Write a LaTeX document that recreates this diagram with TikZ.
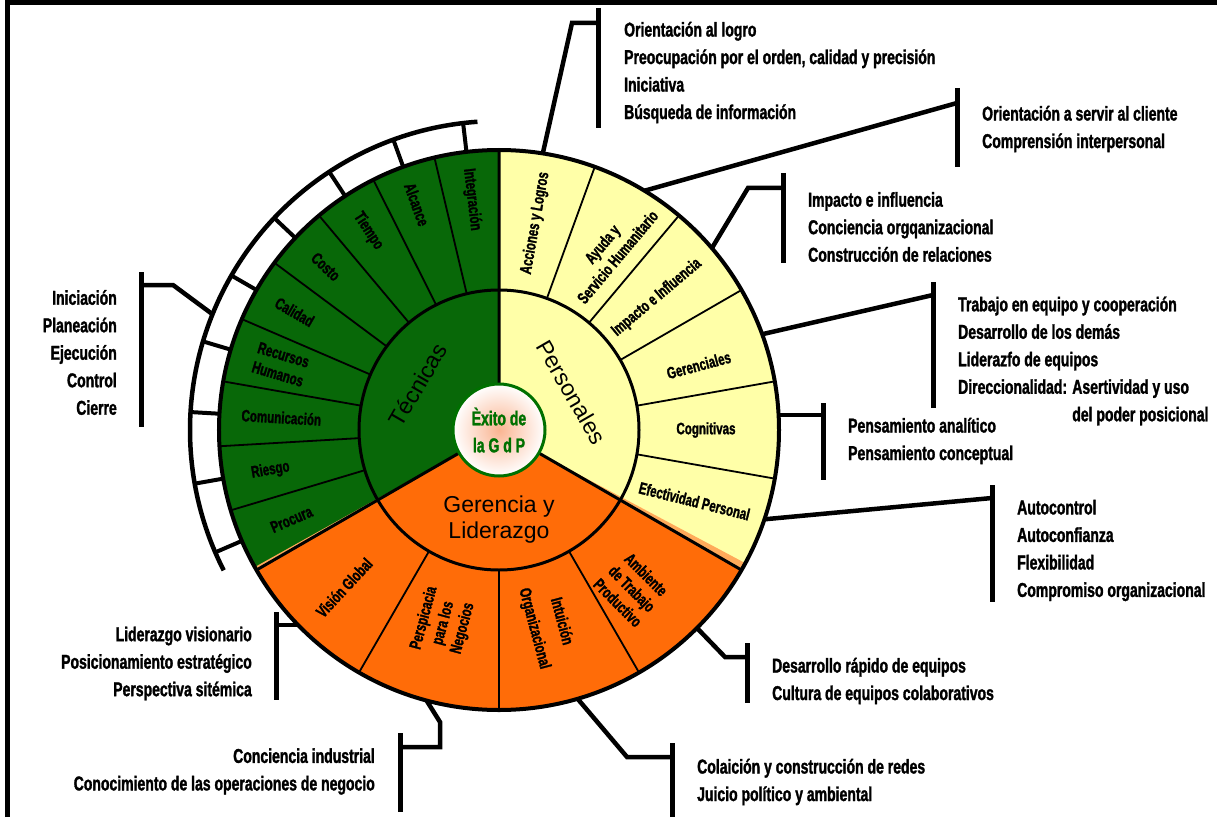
\documentclass[tikz,border=0pt]{standalone}
\usepackage{fontspec}
\setmainfont{Liberation Sans}
\setsansfont{Liberation Sans}
\newfontfamily\condfont[FakeStretch=0.70, FakeBold=1.5]{Liberation Sans Bold}
\usetikzlibrary{positioning}
\definecolor{tecgreen}{RGB}{8,104,8}
\definecolor{peryellow}{RGB}{255,255,168}
\definecolor{gerorange}{RGB}{255,108,8}
\definecolor{shadeorange}{RGB}{255,170,90}
\definecolor{exitogreen}{RGB}{0,112,0}
\definecolor{glow}{RGB}{250,180,145}

\begin{document}
\begin{tikzpicture}[
  x=1pt, y=1pt,
  font=\sffamily,
  seglabel/.style={font=\condfont\fontsize{16.5}{20}\selectfont, align=center, inner sep=0pt},
  mainlabel/.style={font=\sffamily\fontsize{23}{26}\selectfont, align=center, inner sep=0pt},
  listtext/.style={font=\condfont\fontsize{20}{27.5}\selectfont, inner sep=0pt},
  leader/.style={line width=4.5pt},
  bar/.style={line width=5pt},
  divider/.style={line width=1.8pt},
  boundary/.style={line width=3pt}
]
\useasboundingbox (-499,-387) rectangle (718,430);
\draw[line width=5pt] (-491,-387) -- (-491,427.5) -- (718,427.5);

\fill[tecgreen] (0,0) -- (90:280) arc[start angle=90, end angle=210, radius=280] -- cycle;
\fill[peryellow] (0,0) -- (90:280) arc[start angle=90, end angle=-30, radius=280] -- cycle;
\fill[gerorange] (0,0) -- (210:280) arc[start angle=210, end angle=330, radius=280] -- cycle;
\fill[shadeorange] (330:50) -- (330:280) arc[start angle=330, end angle=331.6, radius=280] -- cycle;
\fill[shadeorange] (210:50) -- (210:280) arc[start angle=210, end angle=209.3, radius=280] -- cycle;

\draw[divider] (103.33:140) -- (103.33:280) (116.67:140) -- (116.67:280) (130:140) -- (130:280)
  (143.33:140) -- (143.33:280) (156.67:140) -- (156.67:280) (170:140) -- (170:280)
  (183.33:140) -- (183.33:280) (196.67:140) -- (196.67:280);
\draw[divider] (70:140) -- (70:280) (50:140) -- (50:280) (30:140) -- (30:280)
  (10:140) -- (10:280) (-10:140) -- (-10:280);
\draw[divider] (240:140) -- (240:280) (270:140) -- (270:280) (300:140) -- (300:280);
\draw[boundary] (0,0) -- (90:280) (0,0) -- (210:280) (0,0) -- (330:280);
\draw[line width=3pt] (0,0) circle[radius=140];
\draw[line width=4pt] (0,0) circle[radius=280];

\draw[line width=4.5pt] (94:309) arc[start angle=94, end angle=207, radius=309];
\draw[line width=4pt] (96.67:280) -- (96.67:309) (110:280) -- (110:309) (123.33:280) -- (123.33:309)
  (136.67:280) -- (136.67:309) (150:280) -- (150:309) (163.33:280) -- (163.33:309)
  (176.67:280) -- (176.67:309) (190:280) -- (190:309) (203.33:280) -- (203.33:309);

\node[circle, draw=exitogreen, line width=3pt, minimum size=92pt, inner color=glow, outer color=white,
  font=\condfont\fontsize{20}{27}\selectfont, text=exitogreen, align=center, inner sep=0pt]
  (exito) at (0,0) {Èxito de\\la G d P};

\node[mainlabel, rotate=60] (tecnicas) at (151:93) {Técnicas};
\node[mainlabel, rotate=-60] (personales) at (27.5:82) {Personales};
\node[mainlabel] (gerencia) at (0,-90) {Gerencia y\\Liderazgo};

\node[seglabel, rotate=-83.3] (integracion) at (96.7:232) {Integración};
\node[seglabel, rotate=-70] (alcance) at (110:240) {Alcance};
\node[seglabel, rotate=-56.7] (tiempo) at (123.3:238) {Tiempo};
\node[seglabel, rotate=-43.3] (costo) at (136.7:238) {Costo};
\node[seglabel, rotate=-30] (calidad) at (150:236) {Calidad};
\node[seglabel, rotate=-16.7] (rrhh) at (163.3:228) {Recursos\\Humanos};
\node[seglabel, rotate=-3.3] (comunicacion) at (176.7:218) {Comunicación};
\node[seglabel, rotate=10] (riesgo) at (190:232) {Riesgo};
\node[seglabel, rotate=23.3] (procura) at (203.3:226) {Procura};

\node[seglabel, rotate=80] (acciones) at (80:210) {Acciones y Logros};
\node[seglabel, rotate=50] (ayuda) at (58.3:211) {Ayuda y\\Servicio Humanitario};
\node[seglabel, rotate=40] (impactoseg) at (40:206) {Impacto e Influencia};
\node[seglabel, rotate=15] (gerenciales) at (18:210) {Gerenciales};
\node[seglabel] (cognitivas) at (0:207) {Cognitivas};
\node[seglabel, rotate=-14] (efectividad) at (-20:208) {Efectividad Personal};

\node[seglabel, rotate=47] (vision) at (225.5:221) {Visión Global};
\node[seglabel, rotate=75] (perspicacia) at (254:201) {Perspicacia\\para los\\Negocios};
\node[seglabel, rotate=-75] (intuicion) at (284:201) {Intuición\\[8pt]Organizacional};
\node[seglabel, rotate=-45] (ambiente) at (310:207) {Ambiente\\de Trabajo\\Productivo};

\node[listtext, anchor=west, align=left] (logro) at (125,357.5)
  {Orientación al logro\\Preocupación por el orden, calidad y precisión\\Iniciativa\\Búsqueda de información};
\coordinate (logro-in) at (81:280);
\coordinate (logro-bend) at (73,407);
\coordinate (logro-top) at (99,422);
\coordinate (logro-bot) at (99,302);
\draw[leader] (logro-in) -- (logro-bend) -- (logro-bend -| logro-top);
\draw[bar] (logro-top) -- (logro-bot);

\node[listtext, anchor=west, align=left] (servir) at (483,301)
  {Orientación a servir al cliente\\Comprensión interpersonal};
\coordinate (servir-in) at (58.7:280);
\coordinate (servir-top) at (458,342);
\coordinate (servir-bot) at (458,263);
\draw[leader] (servir-in) -- (458,327);
\draw[bar] (servir-top) -- (servir-bot);

\node[listtext, anchor=west, align=left] (impacto) at (309,203)
  {Impacto e influencia\\Conciencia orgqanizacional\\Construcción de relaciones};
\coordinate (impacto-in) at (40.5:280);
\coordinate (impacto-bend) at (249,242);
\coordinate (impacto-top) at (284,257);
\coordinate (impacto-bot) at (284,167);
\draw[leader] (impacto-in) -- (impacto-bend) -- (impacto-bend -| impacto-top);
\draw[bar] (impacto-top) -- (impacto-bot);

\node[listtext, anchor=west, align=left] (trabajo) at (459,69)
  {Trabajo en equipo y cooperación\\Desarrollo de los demás\\Liderazfo de equipos\\Direccionalidad: Asertividad y uso\\\hphantom{Direccionalidad: }del poder posicional};
\coordinate (trabajo-in) at (20:280);
\coordinate (trabajo-end) at (434,135);
\coordinate (trabajo-top) at (434,148);
\coordinate (trabajo-bot) at (434,22);
\draw[leader] (trabajo-in) -- (trabajo-end);
\draw[bar] (trabajo-top) -- (trabajo-bot);

\node[listtext, anchor=west, align=left] (pensamiento) at (349,-11)
  {Pensamiento analítico\\Pensamiento conceptual};
\coordinate (pensamiento-in) at (3.07:280);
\coordinate (pensamiento-top) at (324,27);
\coordinate (pensamiento-bot) at (324,-50);
\draw[leader] (pensamiento-in) -- (pensamiento-in -| pensamiento-top);
\draw[bar] (pensamiento-top) -- (pensamiento-bot);

\node[listtext, anchor=west, align=left] (autocontrol) at (518,-120.5)
  {Autocontrol\\Autoconfianza\\Flexibilidad\\Compromiso organizacional};
\coordinate (autocontrol-in) at (-18.6:280);
\coordinate (autocontrol-end) at (493,-68);
\coordinate (autocontrol-top) at (493,-55);
\coordinate (autocontrol-bot) at (493,-172);
\draw[leader] (autocontrol-in) -- (autocontrol-end);
\draw[bar] (autocontrol-top) -- (autocontrol-bot);

\node[listtext, anchor=west, align=left] (desarrollo) at (273,-251)
  {Desarrollo rápido de equipos\\Cultura de equipos colaborativos};
\coordinate (desarrollo-in) at (-45:280);
\coordinate (desarrollo-bend) at (226,-227);
\coordinate (desarrollo-top) at (248,-213);
\coordinate (desarrollo-bot) at (248,-273);
\draw[leader] (desarrollo-in) -- (desarrollo-bend) -- (desarrollo-bend -| desarrollo-top);
\draw[bar] (desarrollo-top) -- (desarrollo-bot);

\node[listtext, anchor=west, align=left] (colaicion) at (198,-352)
  {Colaición y construcción de redes\\Juicio político y ambiental};
\coordinate (colaicion-in) at (-73.7:280);
\coordinate (colaicion-bend) at (128,-327);
\coordinate (colaicion-top) at (173,-313);
\coordinate (colaicion-bot) at (173,-387);
\draw[leader] (colaicion-in) -- (colaicion-bend) -- (colaicion-bend -| colaicion-top);
\draw[bar] (colaicion-top) -- (colaicion-bot);

\node[listtext, anchor=east, align=right] (industrial) at (-124,-341.5)
  {Conciencia industrial\\Conocimiento de las operaciones de negocio};
\coordinate (industrial-in) at (255:280);
\coordinate (industrial-bend) at (-59,-292);
\coordinate (industrial-knee) at (-59,-317);
\coordinate (industrial-top) at (-99,-303);
\coordinate (industrial-bot) at (-99,-382);
\draw[leader] (industrial-in) -- (industrial-bend) -- (industrial-knee) -- (industrial-knee -| industrial-top);
\draw[bar] (industrial-top) -- (industrial-bot);

\node[listtext, anchor=east, align=right] (visionario) at (-247,-233.5)
  {Liderazgo visionario\\Posicionamiento estratégico\\Perspectiva sitémica};
\coordinate (visionario-in) at (224.1:280);
\coordinate (visionario-top) at (-222,-182);
\coordinate (visionario-bot) at (-222,-270);
\draw[leader] (visionario-in) -- (visionario-in -| visionario-top);
\draw[bar] (visionario-top) -- (visionario-bot);

\node[listtext, anchor=east, align=right] (iniciacion) at (-382,77.5)
  {Iniciación\\Planeación\\Ejecución\\Control\\Cierre};
\coordinate (iniciacion-in) at (158:309);
\coordinate (iniciacion-bend) at (-326,145);
\coordinate (iniciacion-top) at (-357,158);
\coordinate (iniciacion-bot) at (-357,3);
\draw[leader] (iniciacion-in) -- (iniciacion-bend) -- (iniciacion-bend -| iniciacion-top);
\draw[bar] (iniciacion-top) -- (iniciacion-bot);

\end{tikzpicture}
\end{document}
